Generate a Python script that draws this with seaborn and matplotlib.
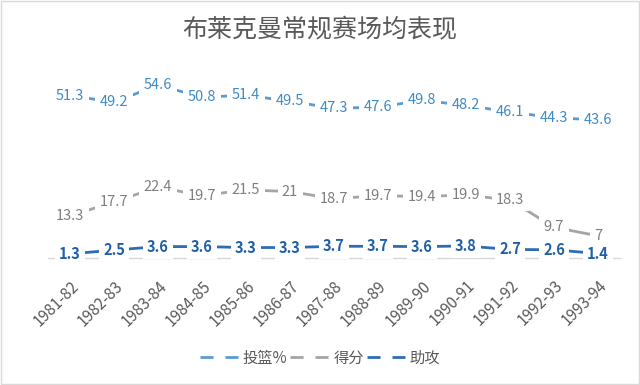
import pandas as pd
import matplotlib
matplotlib.use("Agg")
import matplotlib.pyplot as plt
import seaborn as sns
from matplotlib.lines import Line2D

seasons = ["1981-82", "1982-83", "1983-84", "1984-85", "1985-86", "1986-87", "1987-88",
           "1988-89", "1989-90", "1990-91", "1991-92", "1992-93", "1993-94"]
fg_pct = [51.3, 49.2, 54.6, 50.8, 51.4, 49.5, 47.3, 47.6, 49.8, 48.2, 46.1, 44.3, 43.6]
points = [13.3, 17.7, 22.4, 19.7, 21.5, 21, 18.7, 19.7, 19.4, 19.9, 18.3, 9.7, 7]
assists = [1.3, 2.5, 3.6, 3.6, 3.3, 3.3, 3.7, 3.7, 3.6, 3.8, 2.7, 2.6, 1.4]
series_names = ["投篮%", "得分", "助攻"]

line_colors = {"投篮%": "#5B9BD5", "得分": "#A5A5A5", "助攻": "#2E6DB4"}
text_colors = {"投篮%": "#3F8AC7", "得分": "#7F7F7F", "助攻": "#1F5FA8"}

df = pd.concat([
    pd.DataFrame({"season": seasons, "value": vals, "series": name})
    for name, vals in zip(series_names, [fg_pct, points, assists])
])
df["x"] = df["season"].map({s: i for i, s in enumerate(seasons)})

sns.set_theme(style="white")
plt.rcParams["font.family"] = ["Noto Sans CJK SC", "DejaVu Sans"]

fig = plt.figure(figsize=(6.4, 3.85), dpi=100)
ax = fig.add_axes([48 / 640, 1 - 258 / 385, 572 / 640, 190 / 385])

sns.lineplot(data=df, x="x", y="value", hue="series", palette=line_colors,
             linewidth=2, ax=ax, legend=False, sort=False)

# data labels with white boxes so the line shows only between points
for name, vals in zip(series_names, [fg_pct, points, assists]):
    for i, v in enumerate(vals):
        ax.text(i, v, f"{v:g}", ha="center", va="center", fontsize=10.5,
                color=text_colors[name],
                fontweight="bold" if name == "助攻" else "normal",
                bbox=dict(boxstyle="square,pad=0.3", fc="white", ec="none"),
                zorder=5)

ax.set_xlim(-0.5, len(seasons) - 0.5)
ax.set_ylim(0, 60)
ax.set_xticks(range(len(seasons)))
ax.set_xticklabels(seasons, rotation=45, ha="right", va="top", rotation_mode="anchor",
                   fontsize=11, color="#595959")
ax.tick_params(axis="x", length=0, pad=14)
ax.set_yticks([])
ax.set_xlabel("")
ax.set_ylabel("")
for side in ["top", "left", "right"]:
    ax.spines[side].set_visible(False)
ax.spines["bottom"].set_color("#D9D9D9")
ax.spines["bottom"].set_linewidth(1)
ax.set_facecolor("none")

fig.suptitle("布莱克曼常规赛场均表现", y=1 - 30 / 385, va="center",
             fontsize=18, color="#595959", fontweight="light")

handles = [Line2D([0], [0], color=line_colors[n], lw=2, linestyle=(0, (4.7, 4.3)))
           for n in series_names]
fig.legend(handles, series_names, loc="center", bbox_to_anchor=(0.5, 1 - 358 / 385),
           ncol=3, frameon=False, fontsize=11, handlelength=2.5, handletextpad=0.3,
           columnspacing=0.2, labelcolor="#595959")

border = plt.Rectangle((0.002, 0.002), 0.996, 0.996, transform=fig.transFigure,
                       fill=False, ec="#D9D9D9", lw=1)
fig.patches.append(border)

fig.savefig("out.png", dpi=100)
